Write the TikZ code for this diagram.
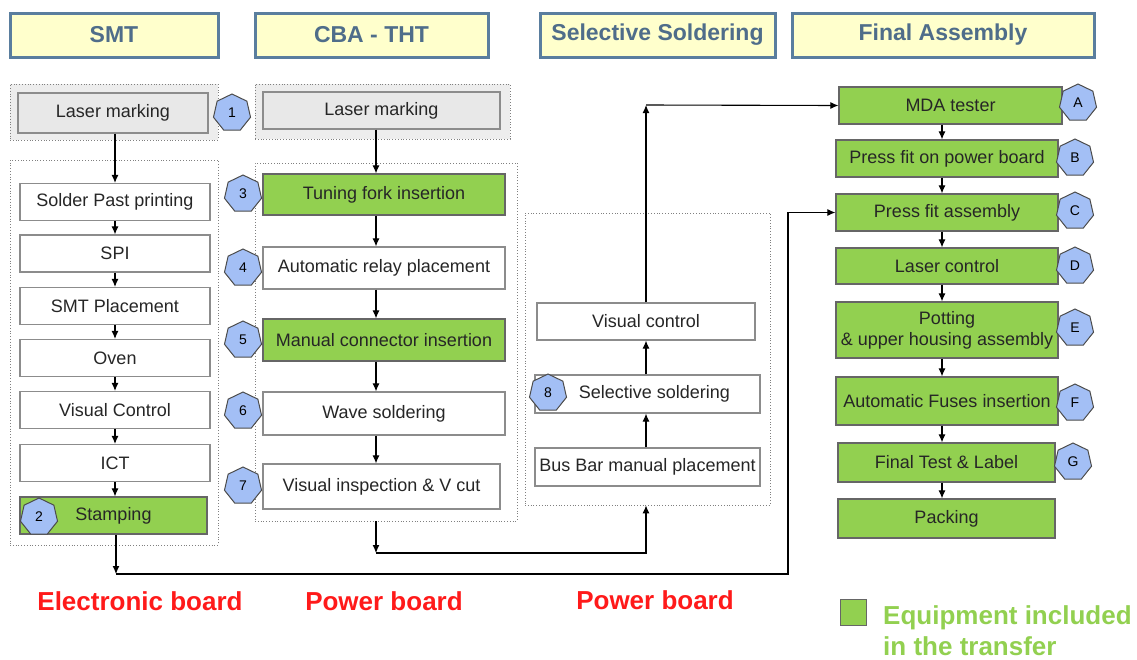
\documentclass[tikz,border=0pt]{standalone}
\usepackage{fontspec}
\setmainfont{Liberation Sans}
\usetikzlibrary{shapes.geometric,arrows.meta}
\definecolor{hdrfill}{HTML}{FFFFCC}
\definecolor{hdrline}{HTML}{5A7E9E}
\definecolor{hdrtext}{HTML}{4F6D8A}
\definecolor{okgreen}{HTML}{92D050}
\definecolor{badgeblue}{HTML}{A3BFF5}
\definecolor{lmgray}{HTML}{E8E8E8}
\definecolor{redlbl}{HTML}{FF1A1A}

\begin{document}
\begin{tikzpicture}[x=1pt,y=-1pt,
  header/.style={draw=hdrline,line width=3pt,fill=hdrfill,text=hdrtext,font=\fontsize{23}{25}\selectfont\bfseries,minimum height=44pt,inner sep=0pt},
  stepbox/.style={draw=black!45,line width=1.2pt,fill=white,font=\fontsize{18}{21}\selectfont,text=black!85,inner sep=0pt,minimum height=37pt,align=center},
  greenbox/.style={stepbox,fill=okgreen,draw=black!60},
  graybox/.style={stepbox,fill=lmgray},
  group/.style={draw=black!50,dotted,line width=0.8pt,inner sep=0pt},
  badge/.style={regular polygon,regular polygon sides=7,draw=black!70,fill=badgeblue,line width=1pt,minimum size=38pt,inner sep=0pt,font=\fontsize{14}{14}\selectfont},
  board/.style={text=redlbl,font=\fontsize{26}{28}\selectfont\bfseries},
  arr/.style={-{Latex[length=8pt,width=7pt]},line width=1.1pt}
]
\useasboundingbox (0,0) rectangle (1137,659);

% headers
\node[header,minimum width=208pt] (hsmt) at (114,35) {SMT};
\node[header,minimum width=233pt] (hcba) at (371.5,35) {CBA - THT};
\node[header,minimum width=235pt] (hsel) at (657.5,35) {Selective Soldering};
\node[header,minimum width=302pt] (hfin) at (943,35) {Final Assembly};

% dotted groups
\node[group,fill=black!7,minimum width=208pt,minimum height=56pt] (smtlmgrp) at (114,112) {};
\node[group,fill=black!7,minimum width=255pt,minimum height=55pt] (cbalmgrp) at (382.5,111.5) {};
\node[group,fill=white,minimum width=208pt,minimum height=385pt] (smtgrp) at (114,352.5) {};
\node[group,fill=white,minimum width=262pt,minimum height=358pt] (cbagrp) at (386,342) {};
\node[group,fill=white,minimum width=245pt,minimum height=292pt] (selgrp) at (647.5,359) {};

% SMT
\node[graybox,minimum width=190pt,minimum height=40pt] (smtlm) at (113,113) {Laser marking};
\node[stepbox,minimum width=190pt] (sp) at (115,202) {Solder Past printing};
\node[stepbox,minimum width=190pt] (spi) at (115,253.5) {SPI};
\node[stepbox,minimum width=190pt] (smtp) at (115,306) {SMT Placement};
\node[stepbox,minimum width=190pt] (oven) at (115,358) {Oven};
\node[stepbox,minimum width=190pt] (visc) at (115,410) {Visual Control};
\node[stepbox,minimum width=190pt] (ict) at (115,463) {ICT};
\node[greenbox,minimum width=187pt] (stamp) at (113.5,515.5) {Stamping};

% CBA - THT
\node[graybox,minimum width=237pt] (cbalm) at (381.5,110.5) {Laser marking};
\node[greenbox,minimum width=242pt,minimum height=41pt] (tf) at (384,194.5) {Tuning fork insertion};
\node[stepbox,minimum width=242pt,minimum height=42pt] (arp) at (384,268) {Automatic relay placement};
\node[greenbox,minimum width=242pt,minimum height=42pt] (mci) at (384,340) {Manual connector insertion};
\node[stepbox,minimum width=242pt,minimum height=43pt] (ws) at (384,413.5) {Wave soldering};
\node[stepbox,minimum width=237pt,minimum height=45pt] (vi) at (381.5,486.5) {Visual inspection \& V cut};

% Selective Soldering
\node[stepbox,minimum width=218pt] (vc) at (646,321.5) {Visual control};
\node[stepbox,minimum width=225pt,minimum height=38pt] (ss) at (647.5,394) {\hspace*{14pt}Selective soldering};
\node[stepbox,minimum width=225pt,minimum height=38pt] (bb) at (647.5,467) {Bus Bar manual placement};

% Final Assembly
\node[greenbox,minimum width=223pt] (mda) at (950.5,105.5) {MDA tester};
\node[greenbox,minimum width=222pt] (pfp) at (947,158.5) {Press fit on power board};
\node[greenbox,minimum width=222pt] (pfa) at (947,212.5) {Press fit assembly};
\node[greenbox,minimum width=222pt,minimum height=36pt] (lc) at (947,266) {Laser control};
\node[greenbox,minimum width=222pt,minimum height=56pt] (pot) at (947,330) {Potting\\\& upper housing assembly};
\node[greenbox,minimum width=222pt,minimum height=48pt] (afi) at (947,401) {Automatic Fuses insertion};
\node[greenbox,minimum width=217pt,minimum height=39pt] (ftl) at (946.5,462.5) {Final Test \& Label};
\node[greenbox,minimum width=217pt,minimum height=39pt] (pack) at (946.5,518.5) {Packing};

% badges
\node[badge] (b1) at (232,113) {1};
\node[badge] (b2) at (39,517) {2};
\node[badge] (b3) at (243,194) {3};
\node[badge] (b4) at (243,268) {4};
\node[badge] (b5) at (243,340) {5};
\node[badge] (b6) at (243,411) {6};
\node[badge] (b7) at (243,486) {7};
\node[badge] (b8) at (548,393) {8};
\node[badge] (ba) at (1078,103) {A};
\node[badge] (bb2) at (1075,158) {B};
\node[badge] (bc) at (1075,211) {C};
\node[badge] (bd) at (1075,266) {D};
\node[badge] (be) at (1075,328) {E};
\node[badge] (bf) at (1075,403) {F};
\node[badge] (bg) at (1073,462) {G};

% flow
\coordinate (cbax) at (376,0);
\coordinate (finx) at (942,0);
\draw[arr] (smtlm.south -| sp) -- (sp.north);
\foreach \a/\b in {sp/spi,spi/smtp,smtp/oven,oven/visc,visc/ict,ict/stamp}
  \draw[arr] (\a.south -| sp) -- (\b.north -| sp);
\foreach \a/\b in {cbalm/tf,tf/arp,arp/mci,mci/ws,ws/vi}
  \draw[arr] (\a.south -| cbax) -- (\b.north -| cbax);
\foreach \a/\b in {mda/pfp,pfp/pfa,pfa/lc,lc/pot,pot/afi,afi/ftl,ftl/pack}
  \draw[arr] (\a.south -| finx) -- (\b.north -| finx);
\draw[arr] (bb.north -| vc) -- (ss.south -| vc);
\draw[arr] (ss.north -| vc) -- (vc.south);

\coordinate (c1) at (376,553);
\coordinate (c2) at (646,105);
\coordinate (c3) at (116,574);
\coordinate (c4) at (788,212.5);
\draw[arr] (cbagrp.south -| cbax) -- (c1);
\draw[arr] (c1) -| (selgrp.south -| vc);
\draw[arr] (vc.north) -- (c2);
\draw[arr] (c2) -- (mda.west);
\draw[arr] (stamp.south -| c3) -- (c3);
\draw[arr] (c3) -| (c4) -- (pfa.west);

% boards
\node[board] (eb) at (140,601) {Electronic board};
\node[board] (pb1) at (384,601) {Power board};
\node[board] (pb2) at (655,600) {Power board};

% legend
\node[draw=black!60,fill=okgreen,line width=1pt,minimum size=26pt,inner sep=0pt] (lgbox) at (853.5,612.5) {};
\node[anchor=west,align=left,text=okgreen,font=\fontsize{26}{31}\selectfont\bfseries,inner sep=0pt] (lgtext) at (883,631) {Equipment included\\in the transfer};
\end{tikzpicture}
\end{document}
